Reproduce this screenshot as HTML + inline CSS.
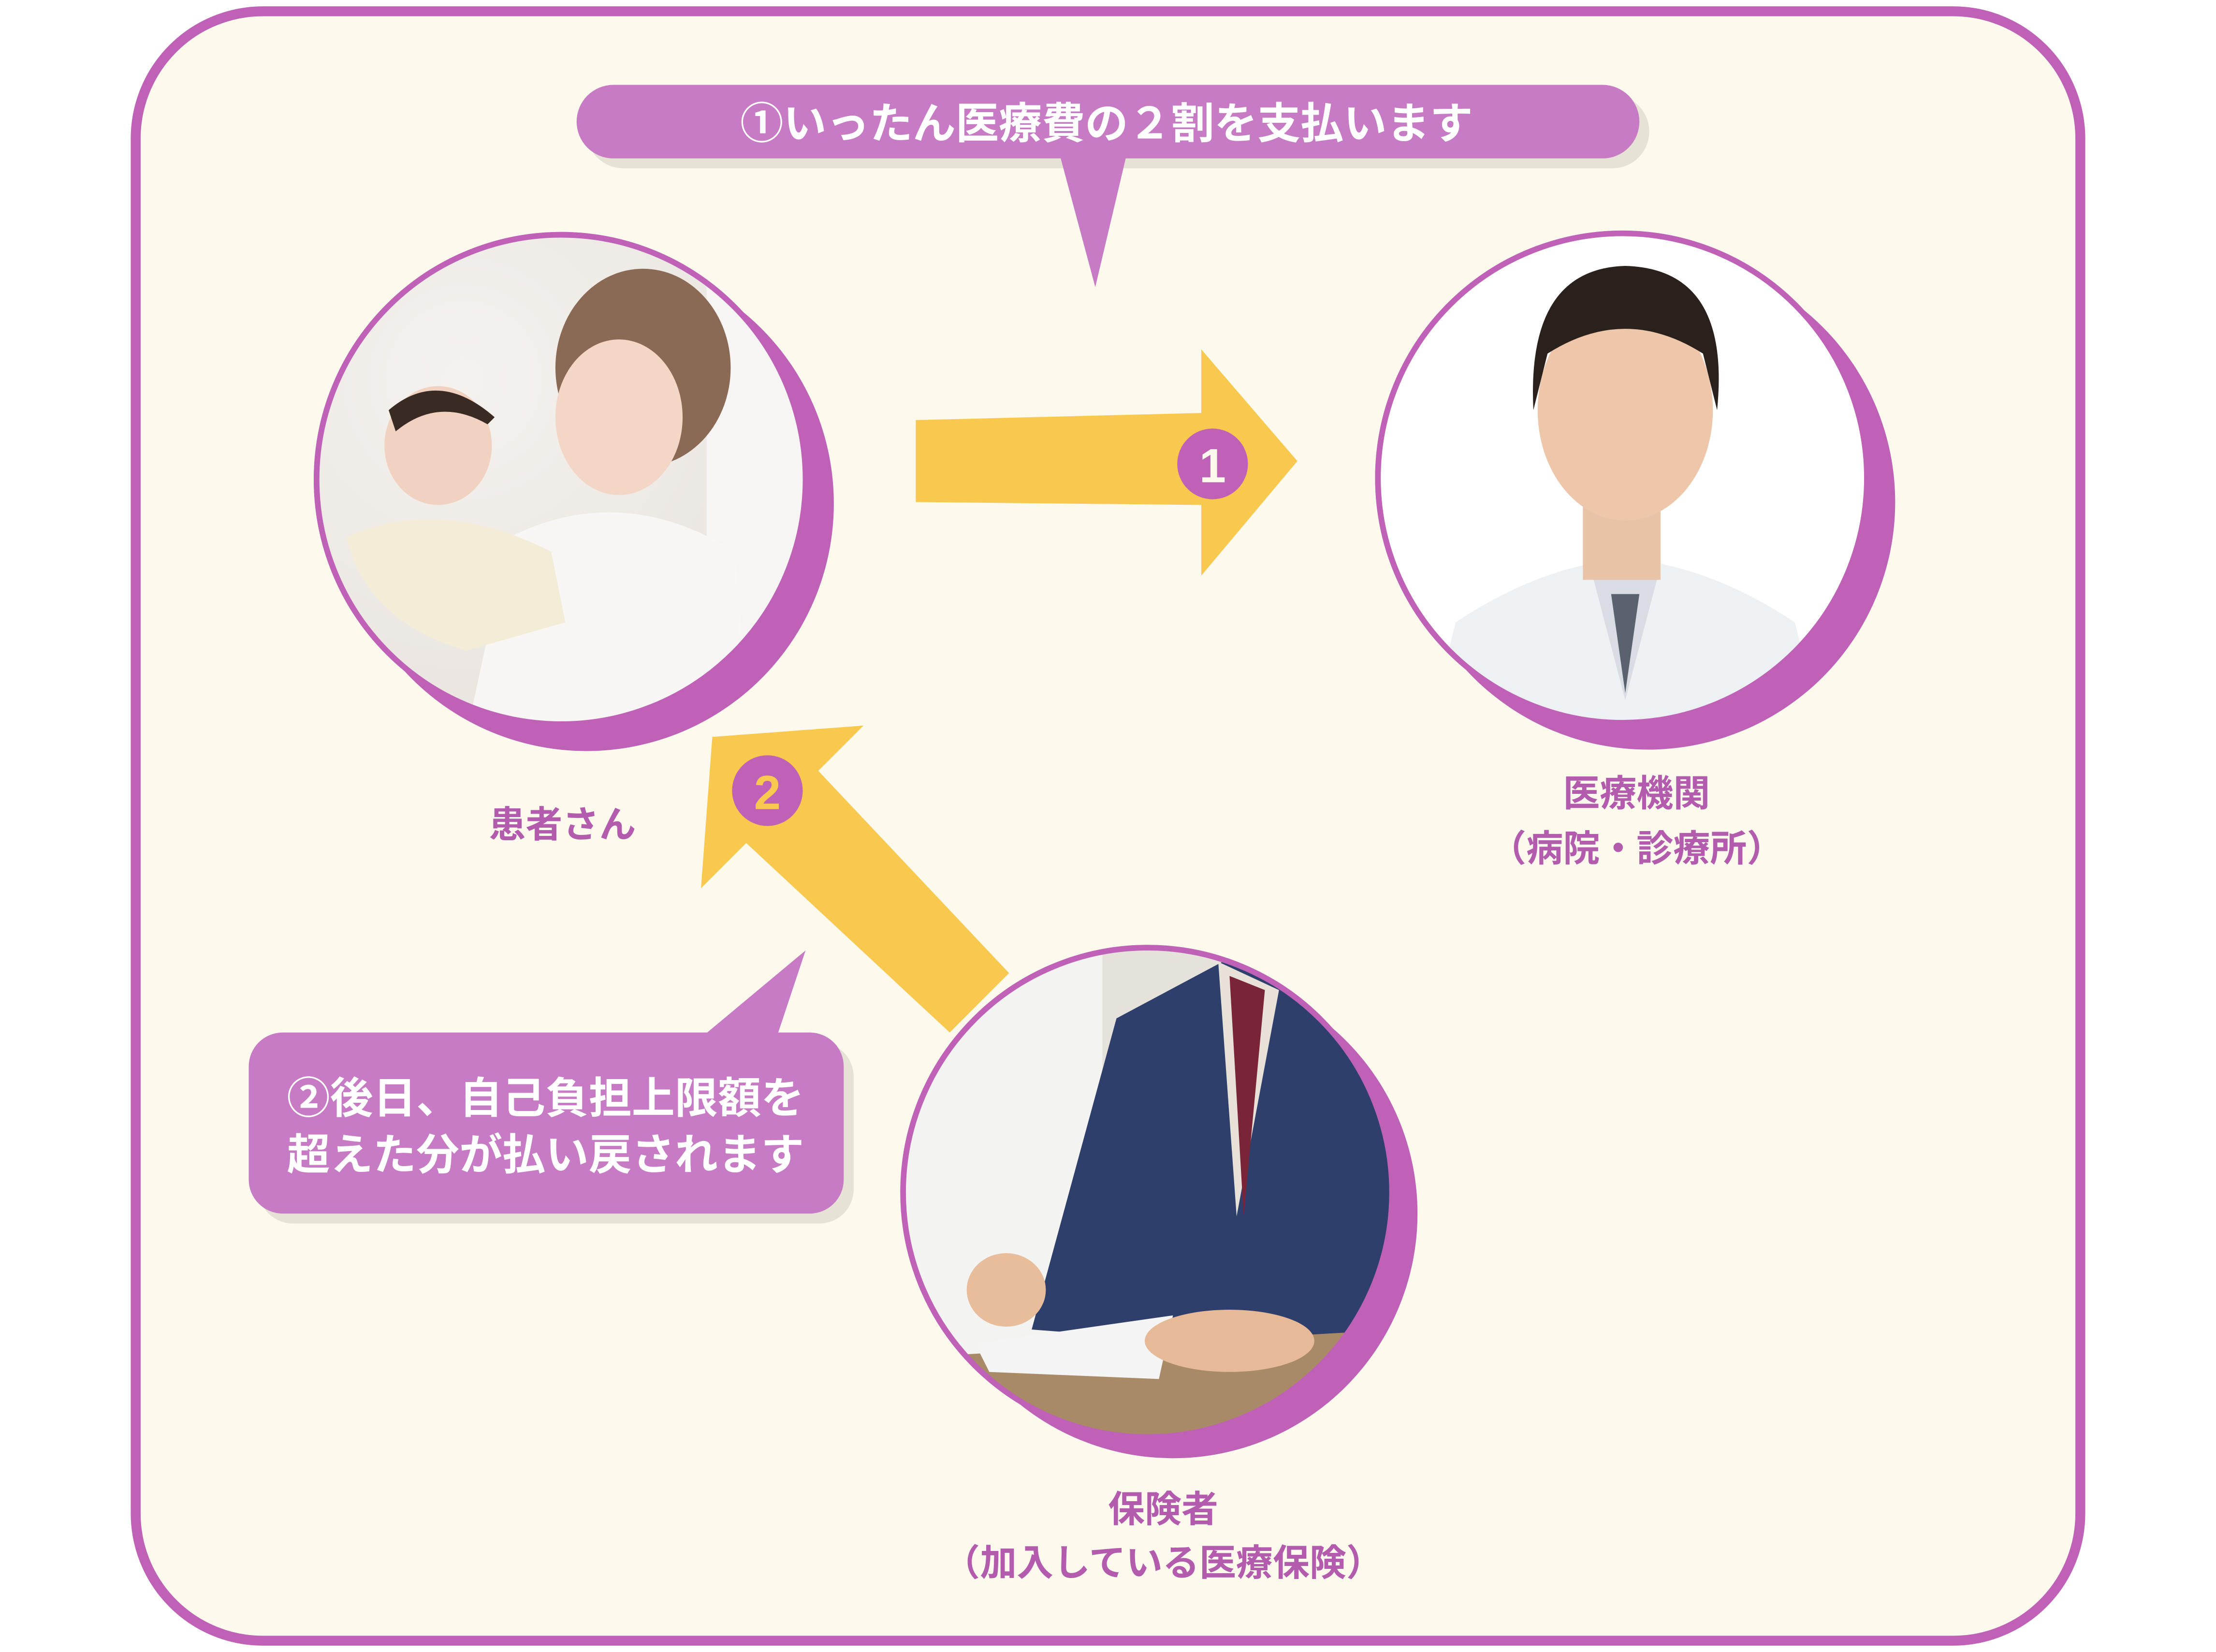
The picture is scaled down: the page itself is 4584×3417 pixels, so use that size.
<!DOCTYPE html>
<html><head><meta charset="utf-8"><style>
html,body{margin:0;padding:0;background:#fff}
svg{display:block}
text{font-family:"Liberation Sans","Noto Sans CJK JP",sans-serif;font-weight:bold}
</style></head><body>
<svg width="4584" height="3417" viewBox="0 0 1568 1168" preserveAspectRatio="none" xmlns="http://www.w3.org/2000/svg">
<defs>
<clipPath id="c1"><circle cx="397" cy="339" r="173"/></clipPath>
<clipPath id="c2"><circle cx="1148" cy="338" r="173"/></clipPath>
<clipPath id="c3"><circle cx="812" cy="843" r="173"/></clipPath>
<radialGradient id="g1" cx="0.3" cy="0.3" r="0.8"><stop offset="0" stop-color="#f4f2ef"/><stop offset="1" stop-color="#e8e2dc"/></radialGradient>
</defs>
<rect x="0" y="0" width="1568" height="1168" fill="#fff"/>
<rect x="96" y="8" width="1376" height="1152" rx="90" fill="#fdf9ec" stroke="#c061b8" stroke-width="7"/>

<rect x="415" y="67" width="752" height="52" rx="26" fill="#e6e2d6"/>
<path d="M750 110 L775 203 L797 110 Z" fill="#c77bc4"/>
<rect x="408" y="60" width="752" height="52" rx="26" fill="#c77bc4"/>
<text x="783" y="98" font-size="30.5" fill="#fff" text-anchor="middle">①いったん医療費の２割を支払います</text>

<path d="M648 297 L850 292 L850 247 L918 326 L850 407 L850 357 L648 355 Z" fill="#f8c84f"/>
<circle cx="858" cy="328" r="25" fill="#c061b8"/>
<text x="858" y="341" font-size="34" fill="#fdf9ec" text-anchor="middle">1</text>

<path d="M611 513 L579 545 L714 688 L672 730 L528 596 L496 628 L504 521 Z" fill="#f8c84f"/>
<circle cx="543" cy="559" r="25" fill="#c061b8"/>
<text x="543" y="572" font-size="34" fill="#f8c84f" text-anchor="middle">2</text>

<circle cx="415" cy="356" r="175" fill="#c061b8"/>
<circle cx="397" cy="339" r="175" fill="#c061b8"/>
<g clip-path="url(#c1)">
<rect x="220" y="160" width="360" height="360" fill="url(#g1)"/>
<rect x="500" y="160" width="80" height="360" fill="#f7f5f3"/>
<ellipse cx="455" cy="260" rx="62" ry="70" fill="#8a6a55"/>
<ellipse cx="438" cy="295" rx="45" ry="55" fill="#f3d6c6"/>
<path d="M360 380 Q440 340 520 390 L530 520 L330 520 Z" fill="#f8f6f4"/>
<ellipse cx="310" cy="315" rx="38" ry="42" fill="#f1d2c0"/>
<path d="M275 290 Q310 260 350 295 L345 300 Q310 280 280 305 Z" fill="#3a2a24"/>
<path d="M245 380 Q310 350 390 390 L400 440 L330 460 Q260 440 245 380 Z" fill="#f3ecd6"/>
</g>
<circle cx="397" cy="339" r="173" fill="none" stroke="#c061b8" stroke-width="4"/>

<circle cx="1166" cy="355" r="175" fill="#c061b8"/>
<circle cx="1148" cy="338" r="175" fill="#c061b8"/>
<g clip-path="url(#c2)">
<rect x="970" y="160" width="360" height="360" fill="#fff"/>
<path d="M1010 520 L1030 440 Q1090 400 1150 395 Q1210 400 1270 440 L1290 520 Z" fill="#eef1f4"/>
<path d="M1125 400 L1150 495 L1175 400 Z" fill="#d9dde3"/>
<path d="M1140 420 L1150 490 L1160 420 Z" fill="#5a6270"/>
<rect x="1120" y="330" width="55" height="80" fill="#e9c3a8"/>
<ellipse cx="1150" cy="290" rx="62" ry="78" fill="#eec7ab"/>
<path d="M1085 290 Q1080 190 1150 188 Q1225 190 1215 290 L1205 250 Q1150 215 1095 250 Z" fill="#2a201c"/>
</g>
<circle cx="1148" cy="338" r="173" fill="none" stroke="#c061b8" stroke-width="4"/>

<circle cx="830" cy="858" r="173" fill="#c061b8"/>
<circle cx="812" cy="843" r="173" fill="#c061b8"/>
<g clip-path="url(#c3)">
<rect x="635" y="665" width="360" height="360" fill="#f3f3f1"/>
<rect x="780" y="665" width="210" height="200" fill="#e4e2da"/>
<path d="M730 940 L790 720 L865 680 L960 700 L990 760 L990 960 Z" fill="#2e3f6c"/>
<path d="M862 680 L875 860 L905 700 Z" fill="#e7e1d8"/>
<path d="M870 690 L880 860 L895 700 Z" fill="#7a2438"/>
<path d="M640 960 L990 940 L990 1030 L640 1030 Z" fill="#a88a66"/>
<path d="M690 950 L830 930 L820 975 L700 970 Z" fill="#f4f4f4"/>
<ellipse cx="870" cy="948" rx="60" ry="22" fill="#e6b998"/>
<ellipse cx="712" cy="912" rx="28" ry="26" fill="#e8bd9c"/>
</g>
<circle cx="812" cy="843" r="173" fill="none" stroke="#c061b8" stroke-width="4"/>

<rect x="183" y="737" width="421" height="128" rx="24" fill="#e6e2d6"/>
<path d="M498 732 L570 672 L550 732 Z" fill="#c77bc4"/>
<rect x="176" y="730" width="421" height="128" rx="24" fill="#c77bc4"/>
<text x="386" y="787" font-size="30.5" fill="#fff" text-anchor="middle">②後日、自己負担上限額を</text>
<text x="386" y="827" font-size="30.5" fill="#fff" text-anchor="middle">超えた分が払い戻されます</text>

<text x="398" y="592" font-size="26" fill="#b35cae" text-anchor="middle">患者さん</text>
<text x="1158" y="570" font-size="26" fill="#b35cae" text-anchor="middle">医療機関</text>
<text x="1158" y="609" font-size="26" fill="#b35cae" text-anchor="middle">（病院・診療所）</text>
<text x="823" y="1076" font-size="26" fill="#b35cae" text-anchor="middle">保険者</text>
<text x="823" y="1114" font-size="26" fill="#b35cae" text-anchor="middle">（加入している医療保険）</text>
</svg>
</body></html>
